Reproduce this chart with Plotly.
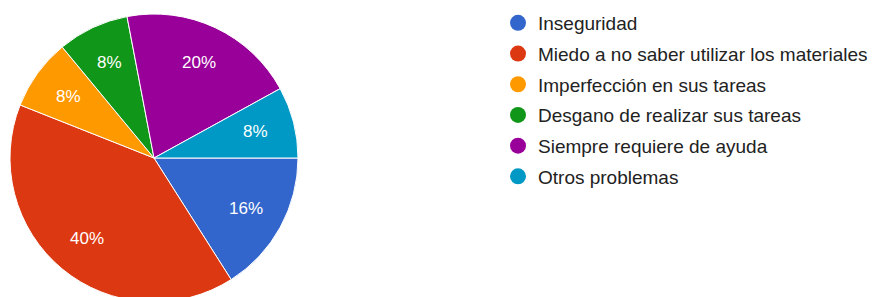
import math
import plotly.graph_objects as go

labels = ["Inseguridad", "Miedo a no saber utilizar los materiales", "Imperfección en sus tareas",
          "Desgano de realizar sus tareas", "Siempre requiere de ayuda", "Otros problemas"]
values = [16, 40, 8, 8, 20, 8]
colors = ["#3366cc", "#dc3912", "#ff9900", "#109618", "#990099", "#0099c6"]

W, H = 873, 303
ml, mt, mb = 10, 4, 1
pw, ph = W - ml, H - mt - mb
cx, cy, R = 154, 158, 144   # pie centre / radius in pixels (layout)
FONT = "Arial, 'Liberation Sans', sans-serif"

fig = go.Figure()
fig.add_trace(go.Pie(
    labels=labels, values=values, sort=False, direction="clockwise", rotation=90,
    marker=dict(colors=colors, line=dict(color="white", width=1)),
    textinfo="none", showlegend=False,
    domain=dict(x=[0, 2 * R / pw], y=[0, 2 * R / ph]), hoverinfo="label+percent",
))

# percentage labels placed at a fixed fraction of the radius, computed from the values
total = sum(values)
acc = 0
annotations = []
for v in values:
    mid = (acc + v / 2) / total * 2 * math.pi
    acc += v
    px = cx + 0.73 * R * math.cos(mid)
    py = cy + 0.73 * R * math.sin(mid)
    annotations.append(dict(x=(px - ml) / pw, y=1 - (py - mt) / ph, xref="paper", yref="paper",
                            xanchor="center", yanchor="middle",
                            text=f"{round(100 * v / total)}%", showarrow=False,
                            font=dict(family=FONT, size=17, color="white")))

for lab, col in zip(labels, colors):
    fig.add_trace(go.Scatter(x=[None], y=[None], mode="markers", name=lab, legendgroup=lab,
                             marker=dict(color=col, size=18, symbol="circle")))
fig.update_xaxes(visible=False)
fig.update_yaxes(visible=False)
fig.update_layout(
    width=W, height=H, margin=dict(l=ml, r=0, t=mt, b=mb, autoexpand=False),
    paper_bgcolor="white", plot_bgcolor="white", annotations=annotations,
    legend=dict(x=(498 - ml) / pw, y=1.0, xanchor="left", yanchor="top",
                font=dict(family=FONT, size=19, color="#222222"),
                traceorder="grouped", tracegroupgap=3, itemsizing="trace"),
)
fig.write_html("out.html", config={"displayModeBar": False},
               post_script="document.documentElement.style.overflow='hidden';document.body.style.overflow='hidden';document.body.style.margin='0';")
